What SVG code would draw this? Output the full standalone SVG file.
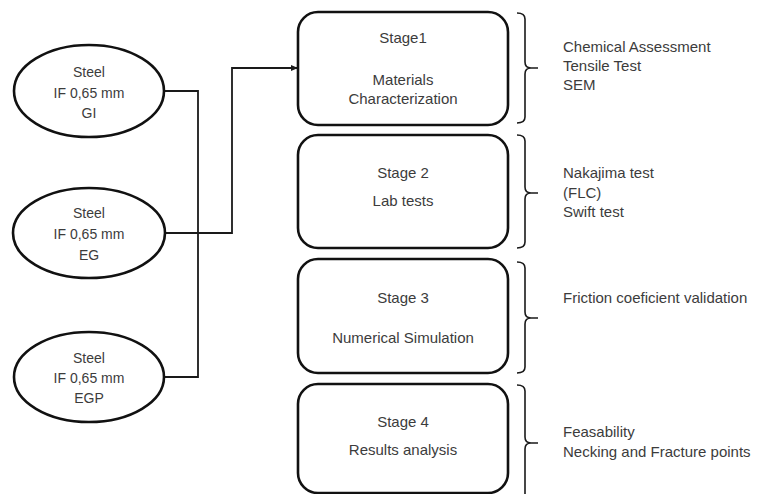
<svg xmlns="http://www.w3.org/2000/svg" width="761" height="494" viewBox="0 0 761 494">
<style>
.shape{fill:#fff;stroke:#111;stroke-width:2.6}
.conn{fill:none;stroke:#1a1a1a;stroke-width:1.8}
.brace{fill:none;stroke:#1a1a1a;stroke-width:1.6}
text{font-family:"Liberation Sans",Arial,sans-serif;fill:#3c3c3c}
.e{font-size:14px;text-anchor:middle}
.b{font-size:15px;text-anchor:middle}
.r{font-size:15px}
</style>
<defs>
<marker id="arr" markerWidth="8" markerHeight="8" refX="7" refY="4" orient="auto" markerUnits="userSpaceOnUse">
<path d="M0,1 L7,4 L0,7 Z" fill="#1a1a1a"/>
</marker>
</defs>
<rect width="761" height="494" fill="#fff"/>
<g id="connectors">
<path class="conn" d="M164,91 H198 V377 H164"/>
<path class="conn" d="M165,233 H232 V68 H298" marker-end="url(#arr)"/>
</g>
<g id="braces">
<path class="brace" d="M517,13 Q525,13 525,19 V62 Q525,68 531,68 H538 M531,68 Q525,68 525,74 V117 Q525,123 517,123"/>
<path class="brace" d="M517,135 Q525,135 525,141 V187 Q525,193 531,193 H538 M531,193 Q525,193 525,199 V242 Q525,248 517,248"/>
<path class="brace" d="M517,262 Q525,262 525,268 V312 Q525,318 531,318 H538 M531,318 Q525,318 525,324 V367 Q525,373 517,373"/>
<path class="brace" d="M517,385 Q525,385 525,391 V437 Q525,443 531,443 H538 M531,443 Q525,443 525,449 V500"/>
</g>
<g id="steel-gi">
<ellipse class="shape" cx="89" cy="91" rx="75" ry="46"/>
<text class="e" x="89" y="77">Steel</text>
<text class="e" x="89" y="98">IF 0,65 mm</text>
<text class="e" x="89" y="118">GI</text>
</g>
<g id="steel-eg">
<ellipse class="shape" cx="89" cy="233" rx="76" ry="45"/>
<text class="e" x="89" y="218">Steel</text>
<text class="e" x="89" y="239">IF 0,65 mm</text>
<text class="e" x="89" y="260">EG</text>
</g>
<g id="steel-egp">
<ellipse class="shape" cx="89" cy="377" rx="75" ry="45"/>
<text class="e" x="89" y="363">Steel</text>
<text class="e" x="89" y="383">IF 0,65 mm</text>
<text class="e" x="89" y="403">EGP</text>
</g>
<g id="stage1">
<rect class="shape" x="298" y="12" width="210" height="113" rx="20"/>
<text class="b" x="403" y="43">Stage1</text>
<text class="b" x="403" y="85">Materials</text>
<text class="b" x="403" y="104">Characterization</text>
</g>
<g id="stage2">
<rect class="shape" x="298" y="135" width="210" height="113" rx="20"/>
<text class="b" x="403" y="178">Stage 2</text>
<text class="b" x="403" y="206">Lab tests</text>
</g>
<g id="stage3">
<rect class="shape" x="298" y="259" width="210" height="114" rx="20"/>
<text class="b" x="403" y="303">Stage 3</text>
<text class="b" x="403" y="343">Numerical Simulation</text>
</g>
<g id="stage4">
<rect class="shape" x="298" y="384" width="210" height="109" rx="20"/>
<text class="b" x="403" y="427">Stage 4</text>
<text class="b" x="403" y="455">Results analysis</text>
</g>
<g id="notes1">
<text class="r" x="563" y="52">Chemical Assessment</text>
<text class="r" x="563" y="71">Tensile Test</text>
<text class="r" x="563" y="90">SEM</text>
</g>
<g id="notes2">
<text class="r" x="563" y="178">Nakajima test</text>
<text class="r" x="563" y="198">(FLC)</text>
<text class="r" x="563" y="217">Swift test</text>
</g>
<g id="notes3">
<text class="r" x="563" y="303">Friction coeficient validation</text>
</g>
<g id="notes4">
<text class="r" x="563" y="437">Feasability</text>
<text class="r" x="563" y="457">Necking and Fracture points</text>
</g>
</svg>
